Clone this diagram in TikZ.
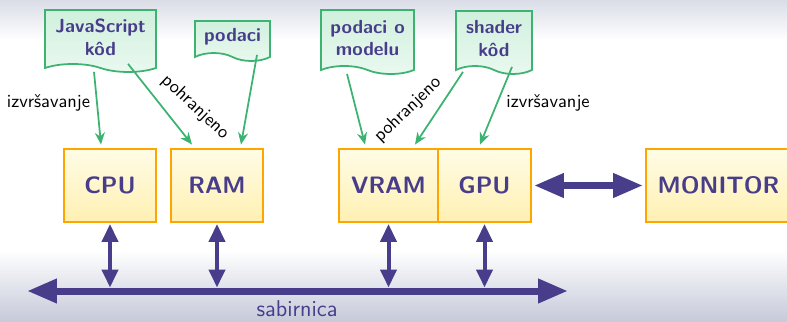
\documentclass[tikz,border=0pt]{standalone}
\usepackage{tikz}
\usetikzlibrary{shapes.symbols,arrows.meta}

\definecolor{ink}{RGB}{72,61,139}
\definecolor{leafline}{RGB}{60,179,113}
\definecolor{leaftop}{RGB}{208,240,221}
\definecolor{leafbot}{RGB}{234,249,240}
\definecolor{boxline}{RGB}{255,165,0}
\definecolor{boxtop}{RGB}{255,252,230}
\definecolor{boxbot}{RGB}{255,240,178}
\definecolor{bgtop}{RGB}{218,221,231}
\definecolor{bgbot}{RGB}{198,202,217}

\tikzset{
  doc/.style={tape, tape bend top=none, tape bend bottom=out and in,
    tape bend height=0.16cm, draw=leafline, line width=1pt,
    top color=leaftop, bottom color=leafbot, text=ink, align=center,
    font=\fontsize{10.8}{13}\selectfont\sffamily\bfseries, inner sep=0pt},
  unit/.style={draw=boxline, line width=1.1pt, top color=boxtop,
    bottom color=boxbot, text=ink, minimum height=1.46cm, inner sep=0pt,
    font=\fontsize{13.5}{16}\selectfont\sffamily\bfseries},
  feed/.style={draw=leafline, line width=1pt,
    -{Stealth[length=0.24cm,width=0.2cm]}},
  link/.style={draw=ink, line width=0.08cm,
    {Triangle[length=0.36cm,width=0.32cm]}-{Triangle[length=0.36cm,width=0.32cm]}},
  wide/.style={draw=ink, line width=0.14cm,
    {Triangle[length=0.6cm,width=0.46cm]}-{Triangle[length=0.6cm,width=0.46cm]}},
  note/.style={font=\fontsize{10.5}{12}\selectfont\sffamily}
}

\begin{document}
\begin{tikzpicture}[x=0.02cm,y=-0.02cm]

\useasboundingbox (0,0) rectangle (787,321);
\shade[top color=bgtop, bottom color=white] (0,0) rectangle (787,40);
\shade[top color=white, bottom color=bgbot] (0,250) rectangle (787,321);

\node(js)[doc, minimum width=2.22cm, minimum height=1.24cm] at (100.5,37) {JavaScript\\kôd};
\node(data)[doc, minimum width=1.5cm, minimum height=0.8cm] at (232.5,37) {podaci};
\node(model)[doc, minimum width=1.86cm, minimum height=1.28cm] at (367.5,38) {podaci o\\modelu};
\node(shader)[doc, minimum width=1.52cm, minimum height=1.26cm] at (494,38.5) {shader\\kôd};

\node(cpu)[unit, minimum width=1.84cm] at (110,185.5) {CPU};
\node(ram)[unit, minimum width=1.84cm] at (217,185.5) {RAM};
\node(vram)[unit, minimum width=1.98cm] at (388.5,185.5) {VRAM};
\node(gpu)[unit, minimum width=1.86cm] at (484.5,185.5) {GPU};
\node(monitor)[unit, minimum width=2.9cm] at (718.5,185.5) {MONITOR};

\node(runl)[note] at (48.5,103) {izvršavanje};
\node(runr)[note] at (548,103) {izvršavanje};
\node(storel)[note, rotate=-43] at (195,107) {pohranjeno};
\node(storer)[note, rotate=44] at (408,110) {pohranjeno};

\draw[feed] ([xshift=-0.13cm,yshift=-0.14cm]js.south) -- ([xshift=-0.18cm,yshift=0.07cm]cpu.north);
\draw[feed] ([xshift=0.55cm,yshift=0.02cm]js.south) -- ([xshift=-0.5cm,yshift=0.07cm]ram.north);
\draw[feed] ([xshift=0.49cm,yshift=-0.02cm]data.south) -- ([xshift=0.48cm,yshift=0.07cm]ram.north);
\draw[feed] ([xshift=-0.41cm,yshift=-0.14cm]model.south) -- ([xshift=-0.47cm,yshift=0.07cm]vram.north);
\draw[feed] ([xshift=-0.62cm,yshift=-0.1cm]shader.south) -- ([xshift=0.53cm,yshift=0.07cm]vram.north);
\draw[feed] ([xshift=0.36cm]shader.south) -- ([xshift=-0.09cm,yshift=0.07cm]gpu.north);

\coordinate(busl) at (27,291);
\coordinate(busr) at (568,291);
\draw[wide] (busl) -- (busr);
\node(bus)[note, text=ink, font=\fontsize{13}{15}\selectfont\sffamily] at (297,309) {sabirnica};

\draw[link, shorten <=0.02cm, shorten >=0.07cm] (cpu.south) -- (cpu.south |- busl);
\draw[link, shorten <=0.02cm, shorten >=0.07cm] (ram.south) -- (ram.south |- busl);
\draw[link, shorten <=0.02cm, shorten >=0.07cm] (vram.south) -- (vram.south |- busl);
\draw[link, shorten <=0.02cm, shorten >=0.07cm] (gpu.south) -- (gpu.south |- busl);

\draw[wide, shorten <=0.04cm, shorten >=0.04cm] (gpu.east) -- (monitor.west);

\end{tikzpicture}
\end{document}
